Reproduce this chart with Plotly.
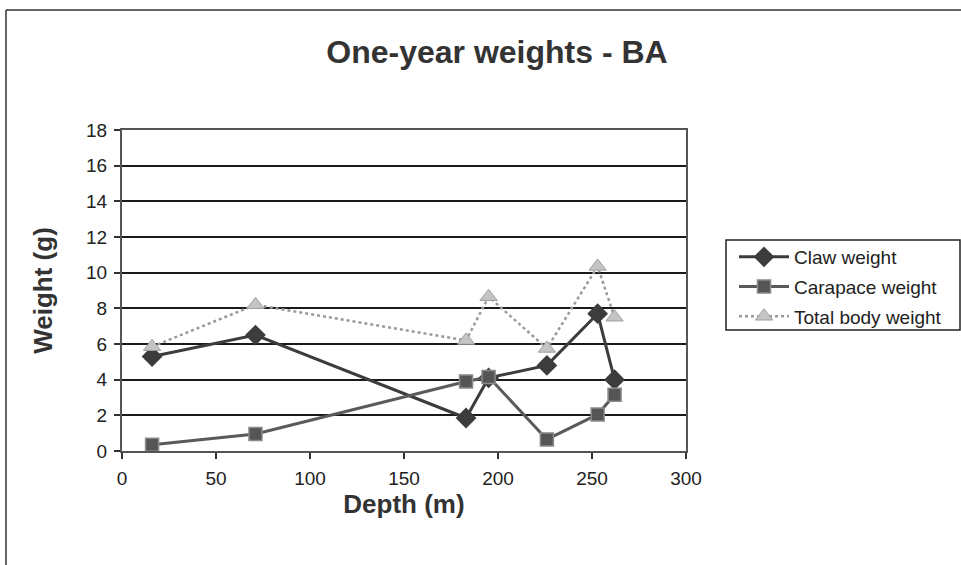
import plotly.graph_objects as go

depth = [16, 71, 183, 195, 226, 253, 262]
claw = [5.3, 6.5, 1.85, 4.1, 4.8, 7.7, 4.0]
carapace = [0.35, 0.95, 3.9, 4.15, 0.65, 2.05, 3.15]
total = [5.85, 8.2, 6.2, 8.65, 5.75, 10.35, 7.5]

FONT = "Liberation Sans, Arial, sans-serif"
L, R, T, B = 122, 686, 130, 451
W, H = 961, 565
pw, ph = R - L, B - T

def px(x):
    return (x - L) / pw

def py(y):
    return (B - y) / ph

fig = go.Figure()
fig.add_trace(go.Scatter(
    x=depth, y=claw, name="Claw weight", mode="lines+markers",
    line=dict(color="#3c3c3c", width=3),
    marker=dict(symbol="diamond", size=16, color="#3c3c3c"),
    legendgroup="a"))
fig.add_trace(go.Scatter(
    x=depth, y=carapace, name="Carapace weight", mode="lines+markers",
    line=dict(color="#5a5a5a", width=3),
    marker=dict(symbol="square", size=13, color="#555555",
                line=dict(color="#8a8a8a", width=1.5)),
    legendgroup="b"))
fig.add_trace(go.Scatter(
    x=depth, y=total, name="Total body weight", mode="lines+markers",
    line=dict(color="#9a9a9a", width=2.5, dash="dot"),
    marker=dict(symbol="triangle-up", size=15, color="#c4c4c4",
                line=dict(color="#a0a0a0", width=1)),
    legendgroup="c"))

fig.update_layout(
    width=W, height=H,
    margin=dict(l=L, r=W - R, t=T, b=H - B),
    paper_bgcolor="white", plot_bgcolor="white",
    font=dict(family=FONT, color="#222222"),
    showlegend=True,
    legend=dict(x=px(734), y=py(238), xanchor="left", yanchor="top",
                font=dict(size=19, family=FONT, color="#222"),
                bgcolor="rgba(0,0,0,0)", borderwidth=0,
                tracegroupgap=2, traceorder="grouped", itemwidth=50),
    title=dict(text="<b>One-year weights - BA</b>", x=497 / W, xanchor="center",
               y=1 - 52 / H, yanchor="middle", xref="container", yref="container",
               font=dict(size=32, family=FONT, color="#333333")),
    xaxis=dict(range=[0, 300], tickvals=[0, 50, 100, 150, 200, 250, 300],
               showgrid=False, zeroline=False, showline=True, linecolor="#555",
               linewidth=2, mirror=True, ticks="outside", ticklen=6,
               tickcolor="#333", tickwidth=1.5, ticklabelstandoff=3,
               tickfont=dict(size=19, family=FONT, color="#222"),
               title=dict(text="<b>Depth (m)</b>", standoff=3,
                          font=dict(size=26, family=FONT, color="#333"))),
    yaxis=dict(range=[0, 18], tickvals=list(range(0, 19, 2)),
               showgrid=True, gridcolor="#1a1a1a", gridwidth=1.5,
               zeroline=False, showline=True, linecolor="#555",
               linewidth=2, mirror=True, ticks="outside", ticklen=6,
               tickcolor="#333", tickwidth=1.5, ticklabelstandoff=3,
               tickfont=dict(size=19, family=FONT, color="#222"),
               title=dict(text="<b>Weight (g)</b>", standoff=26,
                          font=dict(size=26, family=FONT, color="#333"))),
    shapes=[
        dict(type="line", xref="paper", yref="paper", x0=px(6), x1=px(961),
             y0=py(10), y1=py(10), line=dict(color="#333", width=1.5)),
        dict(type="line", xref="paper", yref="paper", x0=px(6), x1=px(6),
             y0=py(10), y1=py(565), line=dict(color="#333", width=1.5)),
        dict(type="rect", xref="paper", yref="paper", x0=px(726), x1=px(960),
             y0=py(330), y1=py(240), line=dict(color="#222", width=1.5)),
    ],
)

fig.write_html("out.html", post_script="document.body.style.margin='0';",
               config={"displayModeBar": False})
